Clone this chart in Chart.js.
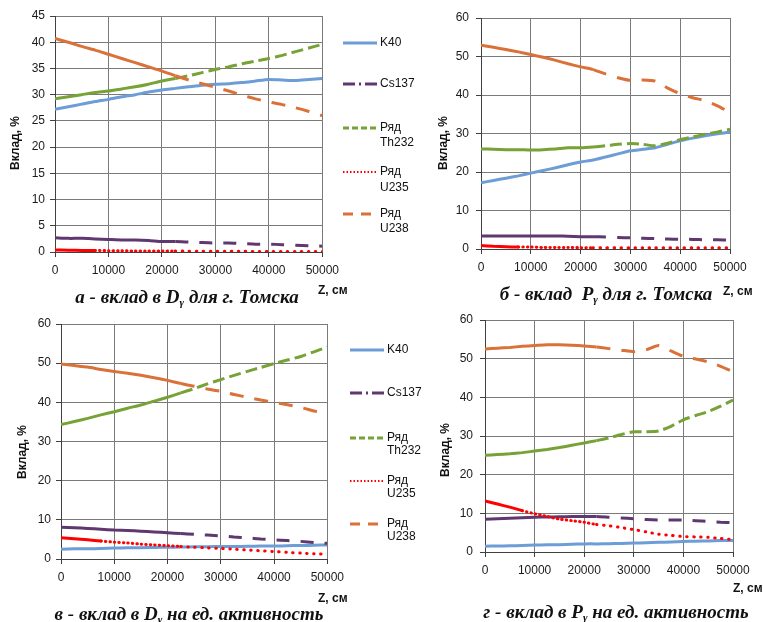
<!DOCTYPE html>
<html><head><meta charset="utf-8">
<script src="https://cdn.jsdelivr.net/npm/chart.js@4"></script>
<style>
body{margin:0;width:763px;height:622px;background:#fff;position:relative;overflow:hidden;font-family:"Liberation Sans",Arial,sans-serif;}
canvas{position:absolute;}
.ytitle{position:absolute;font:bold 12px "Liberation Sans",Arial,sans-serif;transform:translate(-50%,-50%) rotate(-90deg);white-space:nowrap;color:#111;}
.ztitle{position:absolute;font:bold 12px "Liberation Sans",Arial,sans-serif;white-space:nowrap;color:#111;}
.ptitle{position:absolute;font:bold italic 19px "Liberation Serif","Times New Roman",serif;white-space:nowrap;transform:translate(-50%,-50%);color:#111;}
.ptitle sub{font-size:11px;vertical-align:-3px;line-height:0;}
.legtxt{position:absolute;font:12px "Liberation Sans",Arial,sans-serif;color:#111;white-space:nowrap;}
svg{position:absolute;overflow:visible;}
</style>
</head><body>
<canvas id="ca" width="345" height="285" style="left:0;top:0"></canvas>
<canvas id="cb" width="323" height="282" style="left:440px;top:0"></canvas>
<canvas id="cc" width="350" height="292" style="left:0;top:300px"></canvas>
<canvas id="cd" width="323" height="285" style="left:440px;top:300px"></canvas>
<div id="overlay"></div>
<script>
// ---------- data ----------
const zValues = [0,2500,5000,7500,10000,12500,15000,17500,20000,22500,25000,27500,30000,32500,35000,37500,40000,42500,45000,47500,50000];
const xTicks = [0,10000,20000,30000,40000,50000];
const yTicksA = [0,5,10,15,20,25,30,35,40,45];
const yTicks60 = [0,10,20,30,40,50,60];
const seriesNames = ['K40','Cs137','Ряд Th232','Ряд U235','Ряд U238'];
const seriesColors = ['#6c9dd6','#5f3870','#76a236','#ff0000','#da7139'];

// а - вклад в Dγ для г. Томска
const aK40   = [27.2,27.7,28.2,28.7,29.1,29.6,30.0,30.5,30.9,31.2,31.5,31.8,32.0,32.1,32.3,32.6,32.9,32.8,32.7,32.9,33.1];
const aCs137 = [2.7,2.6,2.6,2.5,2.4,2.3,2.3,2.2,2.0,2.0,1.9,1.8,1.7,1.7,1.6,1.5,1.5,1.4,1.3,1.2,1.1];
const aTh232 = [29.2,29.6,30.0,30.4,30.7,31.1,31.5,32.0,32.6,33.1,33.6,34.2,34.8,35.3,35.9,36.4,36.9,37.5,38.2,38.9,39.6];
const aU235  = [0.4,0.35,0.3,0.3,0.25,0.25,0.2,0.2,0.2,0.2,0.15,0.15,0.15,0.15,0.15,0.1,0.1,0.1,0.1,0.1,0.1];
const aU238  = [40.7,40.0,39.2,38.5,37.7,36.9,36.1,35.3,34.5,33.6,32.8,32.1,31.4,30.7,29.9,29.2,28.6,28.1,27.5,26.8,26.0];

// б - вклад Pγ для г. Томска
const bK40   = [17.2,17.8,18.4,19.0,19.7,20.4,21.1,21.9,22.6,23.1,23.9,24.7,25.5,25.9,26.3,27.2,28.1,28.8,29.4,29.9,30.4];
const bCs137 = [3.4,3.4,3.4,3.4,3.4,3.4,3.4,3.3,3.2,3.2,3.1,3.0,2.9,2.8,2.7,2.6,2.5,2.5,2.4,2.4,2.3];
const bTh232 = [26.0,25.9,25.8,25.8,25.7,25.8,26.0,26.3,26.3,26.5,26.8,27.2,27.4,27.2,26.8,27.5,28.4,29.1,29.8,30.4,31.1];
const bU235  = [0.9,0.7,0.6,0.5,0.5,0.4,0.4,0.4,0.35,0.35,0.3,0.3,0.3,0.3,0.3,0.3,0.3,0.3,0.3,0.3,0.3];
const bU238  = [52.9,52.4,51.8,51.2,50.5,49.8,49.0,48.1,47.3,46.6,45.5,44.5,43.8,43.9,43.6,41.8,40.3,39.3,38.5,37.2,35.4];

// в - вклад в Dγ на ед. активность
const cK40   = [2.5,2.6,2.6,2.7,2.8,2.85,2.9,2.95,3.0,3.05,3.1,3.15,3.2,3.2,3.25,3.3,3.3,3.4,3.45,3.5,3.6];
const cCs137 = [8.1,8.0,7.8,7.6,7.4,7.3,7.1,6.9,6.7,6.5,6.3,6.1,5.9,5.6,5.4,5.1,4.9,4.7,4.5,4.2,4.0];
const cTh232 = [34.3,35.1,35.9,36.8,37.6,38.5,39.3,40.3,41.3,42.4,43.5,44.7,45.8,46.9,47.9,48.9,49.9,50.8,51.7,52.9,54.1];
const cU235  = [5.4,5.2,4.9,4.6,4.3,4.1,3.8,3.6,3.4,3.2,3.0,2.85,2.7,2.5,2.3,2.1,1.9,1.7,1.5,1.35,1.2];
const cU238  = [49.8,49.4,49.0,48.4,47.9,47.4,46.9,46.3,45.6,44.8,44.1,43.4,42.8,42.0,41.3,40.6,40.0,39.4,38.7,37.8,37.0];

// г - вклад в Pγ на ед. активность
const dK40   = [1.5,1.55,1.6,1.7,1.8,1.85,1.9,2.0,2.1,2.1,2.15,2.2,2.3,2.4,2.5,2.6,2.7,2.8,2.85,2.95,3.0];
const dCs137 = [8.5,8.6,8.7,8.85,9.0,9.05,9.1,9.15,9.2,9.2,9.0,8.8,8.6,8.4,8.3,8.3,8.3,8.1,7.9,7.7,7.6];
const dTh232 = [25.0,25.2,25.4,25.7,26.1,26.5,27.0,27.6,28.2,28.8,29.5,30.4,31.1,31.1,31.3,32.5,34.2,35.3,36.3,37.7,39.3];
const dU235  = [13.2,12.4,11.6,10.7,9.9,9.2,8.5,8.1,7.7,7.1,6.8,6.3,5.8,5.2,4.6,4.3,4.0,3.9,3.8,3.5,3.2];
const dU238  = [52.5,52.7,52.9,53.2,53.4,53.6,53.6,53.5,53.3,53.0,52.6,52.2,51.8,52.3,53.4,52.0,50.6,49.9,49.2,48.0,46.6];

const panelTitles = [
  'а - вклад в D<sub>γ</sub> для г. Томска',
  'б - вклад&nbsp; P<sub>γ</sub> для г. Томска',
  'в - вклад в D<sub>γ</sub> на ед. активность',
  'г - вклад в P<sub>γ</sub> на ед. активность'
];
const yTitle = 'Вклад, %';
const zTitle = 'Z, см';

// ---------- drawing ----------
function dashFor(i, x){
  if (i === 1) return x >= 22000 ? [13,11] : [];
  if (i === 2) return x >= 22000 ? [12,5] : [];
  if (i === 3) return x < 7500 ? [] : (x < 22500 ? [0.5,4] : [0.5,6.5]);
  if (i === 4) return x >= 22000 ? [14,11] : [];
  return [];
}
const tickFont = {family:'"Liberation Sans", Arial, sans-serif', size:12};
function makeChart(id, values, yMax, yTicks, L){
  const datasets = values.map((vals, i) => ({
    label: seriesNames[i],
    data: zValues.map((z, j) => ({x: z, y: vals[j]})),
    borderColor: seriesColors[i],
    borderWidth: 3,
    pointRadius: 0,
    tension: 0.2,
    order: 5 - i,
    borderCapStyle: i === 3 ? 'round' : 'butt',
    segment: { borderDash: ctx => dashFor(i, ctx.p0.parsed.x) }
  }));
  new Chart(document.getElementById(id), {
    type: 'line',
    data: {datasets},
    options: {
      responsive: false, animation: false, events: [],
      layout: {padding: {left: 0, right: L.pr, top: L.pt, bottom: 0}},
      plugins: {legend: {display: false}, tooltip: {enabled: false}},
      scales: {
        x: {
          type: 'linear', min: 0, max: 50000,
          afterBuildTicks: s => { s.ticks = xTicks.map(v => ({value: v})); },
          afterFit: s => { s.height = L.xh; },
          ticks: {font: tickFont, color: '#1a1a1a', padding: 6, maxRotation: 0, autoSkip: false, callback: v => String(v)},
          grid: {color: '#7a7a7a', tickColor: '#404040', tickLength: 5, lineWidth: 1},
          border: {color: '#404040', width: 1}
        },
        y: {
          type: 'linear', min: 0, max: yMax,
          afterBuildTicks: s => { s.ticks = yTicks.map(v => ({value: v})); },
          afterFit: s => { s.width = L.yw; },
          ticks: {font: tickFont, color: '#1a1a1a', padding: L.yp, autoSkip: false, callback: v => String(v)},
          grid: {color: '#7a7a7a', tickColor: '#404040', tickLength: 5, lineWidth: 1},
          border: {color: '#404040', width: 1}
        }
      }
    }
  });
}
makeChart('ca', [aK40,aCs137,aTh232,aU235,aU238], 45, yTicksA, {yw:55, pr:22, pt:16, xh:33, yp:5});
makeChart('cb', [bK40,bCs137,bTh232,bU235,bU238], 60, yTicks60, {yw:41, pr:33, pt:18, xh:33, yp:7});
makeChart('cc', [cK40,cCs137,cTh232,cU235,cU238], 60, yTicks60, {yw:61, pr:21, pt:24, xh:33, yp:5});
makeChart('cd', [dK40,dCs137,dTh232,dU235,dU238], 60, yTicks60, {yw:45, pr:30, pt:20, xh:33, yp:7});

// ---------- texts & legends ----------
const ov = document.getElementById('overlay');
function add(html){ ov.insertAdjacentHTML('beforeend', html); }
[[15,143],[443,143],[22,452],[445,450]].forEach(p => add(`<div class="ytitle" style="left:${p[0]}px;top:${p[1]}px">${yTitle}</div>`));
[[318,283],[723,284],[318,591],[733,581]].forEach(p => add(`<div class="ztitle" style="left:${p[0]}px;top:${p[1]}px">${zTitle}</div>`));
[[187,297],[606,294],[189,614],[616,612]].forEach((p,i) => add(`<div class="ptitle" style="left:${p[0]}px;top:${p[1]}px">${panelTitles[i]}</div>`));

const legDash = ['', '12 4 2 4', '6 3', '1.5 2', '10 8'];
const legWidth = [3, 3, 3, 1.8, 3];
function legend(x0, tx, ys, lh){
  seriesNames.forEach((n, i) => {
    const y = ys[i];
    add(`<svg style="left:${x0}px;top:${y-3}px" width="34" height="6"><line x1="0" y1="3" x2="34" y2="3" stroke="${seriesColors[i]}" stroke-width="${legWidth[i]}" ${legDash[i] ? `stroke-dasharray="${legDash[i]}"` : ''}/></svg>`);
    const parts = n.split(' ');
    add(`<div class="legtxt" style="left:${tx}px;top:${y-lh/2}px;line-height:${lh}px">${parts.join('<br>')}</div>`);
  });
}
legend(343, 380, [42.7, 84, 127.5, 172, 213.5], 15.5);
legend(350, 387, [349.5, 392.5, 437.5, 480.5, 523.5], 13.5);
</script>
</body></html>
